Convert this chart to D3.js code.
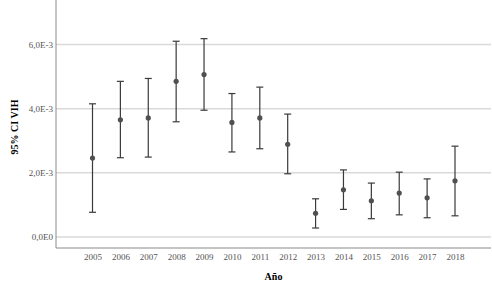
<!DOCTYPE html>
<html>
<head>
<meta charset="utf-8">
<script src="https://cdn.jsdelivr.net/npm/d3@7"></script>
<style>
body { margin: 0; background: #fff; }
</style>
</head>
<body>
<div id="chart"></div>
<script>
// valores (x 1e-3)
var years = ["2005","2006","2007","2008","2009","2010","2011","2012","2013","2014","2015","2016","2017","2018"];
var means = [2.46, 3.65, 3.71, 4.85, 5.06, 3.57, 3.71, 2.89, 0.74, 1.47, 1.13, 1.37, 1.22, 1.75];
var upper = [4.15, 4.85, 4.94, 6.10, 6.18, 4.47, 4.67, 3.83, 1.19, 2.09, 1.68, 2.02, 1.81, 2.83];
var lower = [0.77, 2.47, 2.49, 3.59, 3.95, 2.65, 2.75, 1.97, 0.28, 0.86, 0.57, 0.69, 0.60, 0.66];
var yTicks = [0, 2, 4, 6];
var yTickLabels = ["0,0E0", "2,0E-3", "4,0E-3", "6,0E-3"];

var width = 492, height = 286;
var plotLeft = 56, plotRight = 491, plotTop = 0, plotBottom = 248;

var svg = d3.select("#chart").append("svg")
	.attr("width", width)
	.attr("height", height)
	.style("font-family", "'Liberation Serif', 'Times New Roman', serif");

var x = d3.scalePoint()
	.domain(years)
	.range([92.5, 455]);

var y = d3.scaleLinear()
	.domain([-0.343, 7.385])
	.range([plotBottom, plotTop]);

// grid
svg.append("g").selectAll("line")
	.data(yTicks)
	.join("line")
	.attr("x1", plotLeft)
	.attr("x2", plotRight)
	.attr("y1", d => y(d))
	.attr("y2", d => y(d))
	.attr("stroke", "#d9d9d9")
	.attr("stroke-width", 1.5);

// axes
var yAxis = svg.append("g")
	.attr("transform", "translate(" + plotLeft + ",0)")
	.call(d3.axisLeft(y).tickValues(yTicks).tickSize(0).tickPadding(3)
		.tickFormat((d, i) => yTickLabels[i]));
yAxis.select(".domain").remove();
yAxis.selectAll("text")
	.attr("fill", "#555")
	.style("font-size", "9px")
	.style("font-family", "'Liberation Serif', serif");

var xAxis = svg.append("g")
	.attr("transform", "translate(0," + plotBottom + ")")
	.call(d3.axisBottom(x).tickSize(0).tickPadding(6));
xAxis.select(".domain").remove();
xAxis.selectAll("text")
	.attr("fill", "#555")
	.style("font-size", "9px")
	.style("font-family", "'Liberation Serif', serif");

svg.append("line")
	.attr("x1", plotLeft).attr("x2", plotLeft)
	.attr("y1", plotTop).attr("y2", plotBottom)
	.attr("stroke", "#8a8a8a");
svg.append("line")
	.attr("x1", plotLeft).attr("x2", plotRight)
	.attr("y1", plotBottom).attr("y2", plotBottom)
	.attr("stroke", "#8a8a8a");

// error bars
var g = svg.append("g")
	.attr("stroke", "#3a3a3a")
	.attr("stroke-width", 1.2);
var idx = d3.range(years.length);
g.selectAll("line.bar")
	.data(idx)
	.join("line")
	.attr("class", "bar")
	.attr("x1", i => x(years[i]))
	.attr("x2", i => x(years[i]))
	.attr("y1", i => y(lower[i]))
	.attr("y2", i => y(upper[i]));
g.selectAll("line.capu")
	.data(idx)
	.join("line")
	.attr("class", "capu")
	.attr("x1", i => x(years[i]) - 3.5)
	.attr("x2", i => x(years[i]) + 3.5)
	.attr("y1", i => y(upper[i]))
	.attr("y2", i => y(upper[i]));
g.selectAll("line.capl")
	.data(idx)
	.join("line")
	.attr("class", "capl")
	.attr("x1", i => x(years[i]) - 3.5)
	.attr("x2", i => x(years[i]) + 3.5)
	.attr("y1", i => y(lower[i]))
	.attr("y2", i => y(lower[i]));

svg.append("g").selectAll("circle")
	.data(idx)
	.join("circle")
	.attr("cx", i => x(years[i]))
	.attr("cy", i => y(means[i]))
	.attr("r", 2.6)
	.attr("fill", "#505050");

// titles
svg.append("text")
	.attr("x", (plotLeft + plotRight) / 2)
	.attr("y", 280)
	.attr("text-anchor", "middle")
	.style("font-size", "10px")
	.style("font-weight", "bold")
	.text("Año");

svg.append("text")
	.attr("transform", "translate(18," + ((plotTop + plotBottom) / 2 + 3) + ") rotate(-90)")
	.attr("text-anchor", "middle")
	.style("font-size", "10px")
	.style("font-weight", "bold")
	.text("95% CI VIH");
</script>
</body>
</html>
